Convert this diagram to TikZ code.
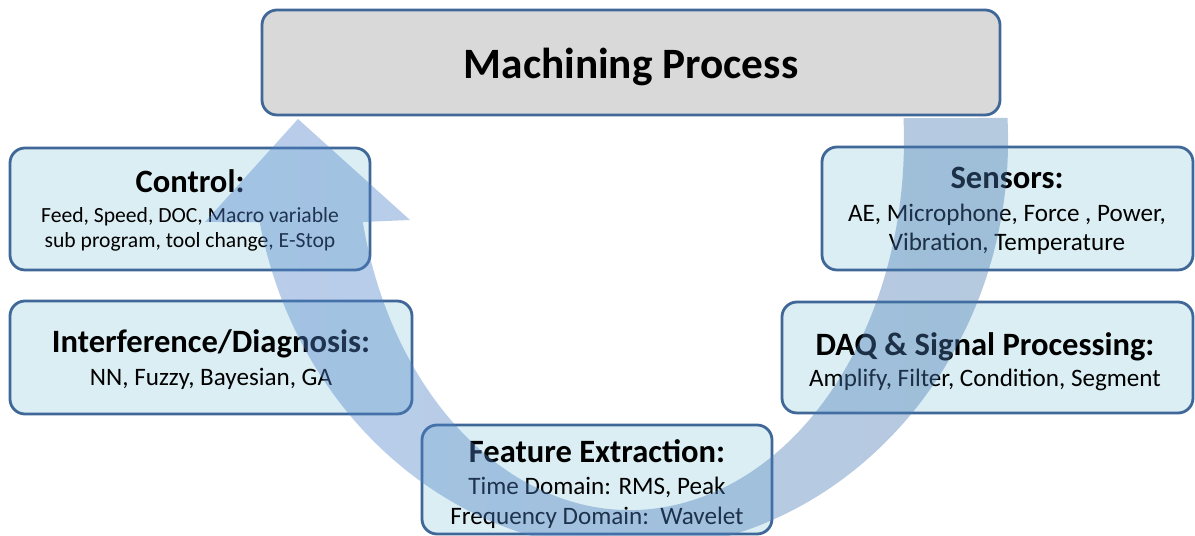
\documentclass[tikz,border=0pt]{standalone}
\usepackage{fontspec}
\setmainfont{Carlito}
\definecolor{boxline}{RGB}{63,103,151}
\definecolor{boxfill}{RGB}{219,238,244}
\definecolor{topfill}{RGB}{217,217,217}
\definecolor{arrowL}{RGB}{80,132,206}
\definecolor{arrowR}{RGB}{70,119,174}
\begin{document}
\begin{tikzpicture}[x=1bp,y=1bp,
  stagebox/.style={draw=boxline, line width=2.8bp, fill=boxfill, rounded corners=15bp, inner sep=0pt},
  processbox/.style={stagebox, fill=topfill},
  headtext/.style={font=\fontsize{32.7}{38}\selectfont\bfseries, anchor=base, inner sep=0pt},
  bodytext/.style={font=\fontsize{25.2}{30}\selectfont, anchor=base, inner sep=0pt},
  smalltext/.style={bodytext, font=\fontsize{21.7}{26}\selectfont},
  cyclearrow/.style={left color=arrowL, right color=arrowR, fill opacity=0.4}]
\useasboundingbox (0,0) rectangle (1195,536);

% stage boxes
\node[processbox, minimum width=738bp, minimum height=105bp] (process) at (631,473.5) {};
\node[stagebox, minimum width=360bp, minimum height=122bp] (control) at (190,327) {};
\node[stagebox, minimum width=371bp, minimum height=123bp] (sensors) at (1007.5,327.5) {};
\node[stagebox, minimum width=402bp, minimum height=113bp] (infer) at (211,178.5) {};
\node[stagebox, minimum width=411bp, minimum height=111bp] (daq) at (987.5,178.5) {};
\node[stagebox, minimum width=350bp, minimum height=109bp] (feature) at (597,56.5) {};

% texts
\node[headtext, font=\fontsize{43.5}{52}\selectfont\bfseries] (processT) at (631,457) {Machining Process};

\node[headtext] (controlT) at (190,343) {Control:};
\node[smalltext] (controlA) at (190,313) {Feed, Speed, DOC, Macro variable};
\node[smalltext] (controlB) at (190,288) {sub program, tool change, E-Stop};

\node[headtext] (sensorsT) at (1007,347) {Sensors:};
\node[bodytext] (sensorsA) at (1007,314) {AE, Microphone, Force , Power,};
\node[bodytext] (sensorsB) at (1007,285) {Vibration, Temperature};

\node[headtext] (inferT) at (211,183) {Interference/Diagnosis:};
\node[bodytext] (inferA) at (211,150) {NN, Fuzzy, Bayesian, GA};

\node[headtext] (daqT) at (985,180) {DAQ \& Signal Processing:};
\node[bodytext] (daqA) at (985,149) {Amplify, Filter, Condition, Segment};

\node[headtext] (featureT) at (597,73) {Feature Extraction:};
\node[bodytext] (featureA) at (597,41) {Time Domain: RMS, Peak};
\node[bodytext] (featureB) at (597,11) {Frequency Domain:\ \ Wavelet};

% curved cycle arrow drawn over the boxes
\path[cyclearrow]
  (1007.5,418) arc[start angle=3.08, end angle=-168.46, x radius=378, y radius=410]
  -- (205,314) -- (298,417) -- (410,316) -- (362.8,314)
  arc[start angle=-167.2, end angle=3.41, x radius=274, y radius=370] -- cycle;
\end{tikzpicture}
\end{document}
